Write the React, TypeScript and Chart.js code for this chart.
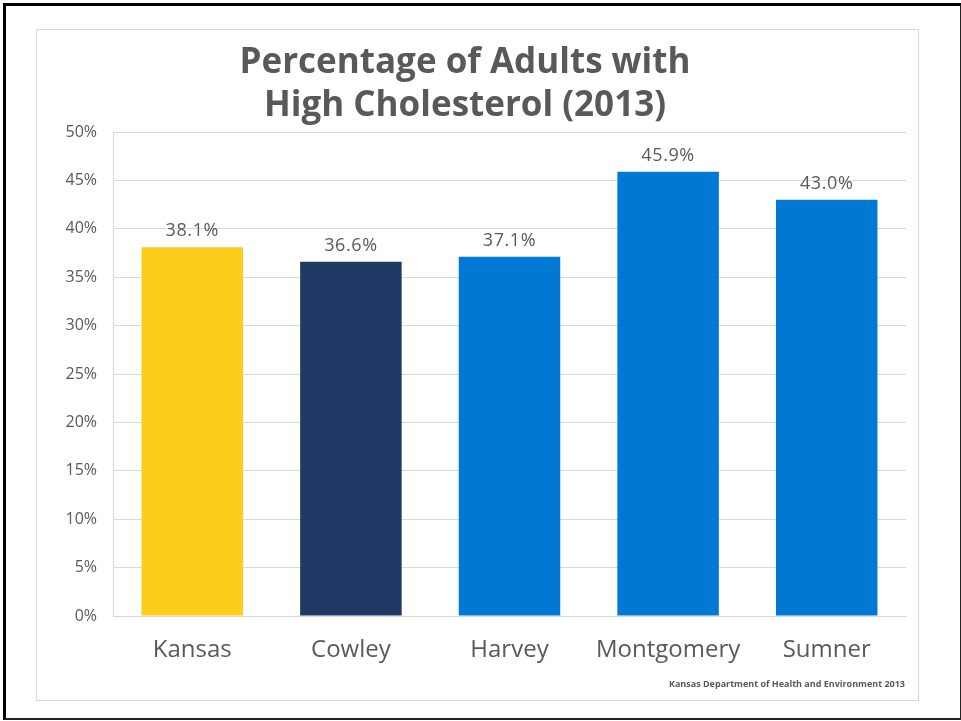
import React, { useEffect, useRef } from "react";
import { Chart, registerables } from "chart.js";

Chart.register(...registerables);

const categories = ["Kansas", "Cowley", "Harvey", "Montgomery", "Sumner"];
const values = [38.1, 36.6, 37.1, 45.9, 43.0];
const barColors = ["#FDCD1E", "#1F3864", "#0078D4", "#0078D4", "#0078D4"];
const titleLines = ["Percentage of Adults with", "High Cholesterol (2013)"];
const footerText = "Kansas Department of Health and Environment 2013";
const yMax = 50;
const yStep = 5;

const FONT = "'Open Sans', 'Noto Sans', sans-serif";
const TEXT = "#595959";

export default function App() {
  const ref = useRef<HTMLCanvasElement | null>(null);

  useEffect(() => {
    const canvas = ref.current;
    if (!canvas) return;
    const overlay = {
      id: "overlay",
      afterDatasetsDraw(chart: any) {
        const ctx = chart.ctx;
        ctx.save();
        // data labels
        const meta = chart.getDatasetMeta(0);
        ctx.fillStyle = TEXT;
        ctx.font = `18px ${FONT}`;
        ctx.textAlign = "center";
        ctx.textBaseline = "middle";
        if ("letterSpacing" in ctx) (ctx as any).letterSpacing = "0.6px";
        meta.data.forEach((bar: any, i: number) => {
          ctx.fillText(values[i].toFixed(1) + "%", bar.x, bar.y - 16);
        });
        if ("letterSpacing" in ctx) (ctx as any).letterSpacing = "0px";
        // title
        ctx.font = `bold 35px ${FONT}`;
        ctx.fillText(titleLines[0], 428, 33);
        ctx.fillText(titleLines[1], 428, 76);
        // footer
        ctx.font = `bold 9px ${FONT}`;
        ctx.textAlign = "right";
        ctx.fillText(footerText, 868, 654);
        ctx.restore();
      },
    };
    const chart = new Chart(canvas, {
      type: "bar",
      data: {
        labels: categories,
        datasets: [
          {
            data: values,
            backgroundColor: barColors,
            borderWidth: 0,
            categoryPercentage: 0.64,
            barPercentage: 1,
          },
        ],
      },
      options: {
        animation: false,
        responsive: false,
        maintainAspectRatio: false,
        layout: { padding: { left: 0, top: 102, right: 12, bottom: 0 } },
        plugins: {
          legend: { display: false },
          title: { display: false },
          tooltip: { enabled: false },
        },
        scales: {
          x: {
            grid: { display: false, drawTicks: false },
            border: { display: true, color: "#D9D9D9", width: 1 },
            ticks: {
              color: TEXT,
              font: { family: FONT, size: 24 },
              padding: 20,
              maxRotation: 0,
            },
            afterFit: (s: any) => {
              s.height = 84;
            },
          },
          y: {
            min: 0,
            max: yMax,
            grid: { color: "#D9D9D9", drawTicks: false, lineWidth: 1 },
            border: { display: true, color: "#D9D9D9" },
            ticks: {
              stepSize: yStep,
              color: TEXT,
              font: { family: FONT, size: 16 },
              padding: 16,
              callback: (v: any) => v + "%",
            },
            afterFit: (s: any) => {
              s.width = 76;
            },
          },
        },
      },
      plugins: [overlay],
    });
    return () => chart.destroy();
  }, []);

  return (
    <div
      style={{
        position: "absolute",
        left: 0,
        top: 0,
        width: 961,
        height: 721,
        background: "#fff",
      }}
    >
      <div
        style={{
          position: "absolute",
          left: 3,
          top: 3,
          width: 958,
          height: 717,
          boxSizing: "border-box",
          borderLeft: "3px solid #000",
          borderTop: "3px solid #000",
          borderRight: "1px solid #222",
          borderBottom: "2px solid #222",
        }}
      />
      <div
        style={{
          position: "absolute",
          left: 36,
          top: 29,
          width: 883,
          height: 672,
          boxSizing: "border-box",
          border: "1px solid #D9D9D9",
        }}
      >
        <canvas ref={ref} width={881} height={670} style={{ display: "block" }} />
      </div>
    </div>
  );
}
